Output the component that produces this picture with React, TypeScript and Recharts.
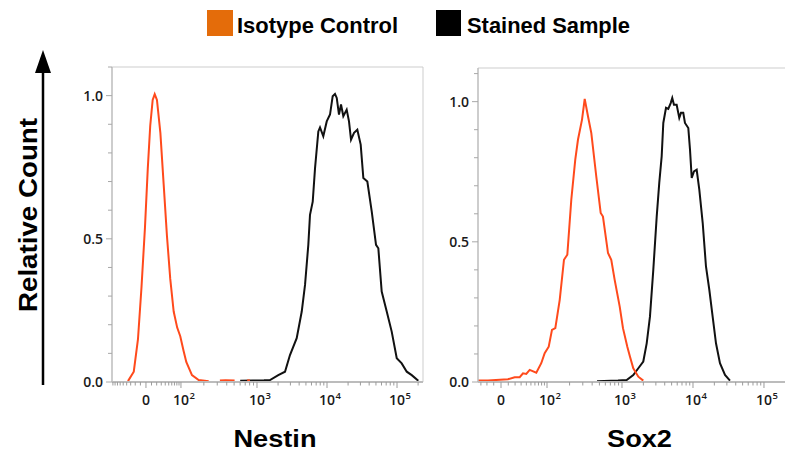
import React from 'react';
import { LineChart, Line, XAxis, YAxis, ReferenceLine } from 'recharts';

// ---------- data (x in display channel units: 10^3 -> 3, 10^4 -> 4, 10^5 -> 5) ----------
const nestinIsoX = [1.157, 1.24, 1.3, 1.35, 1.4, 1.44, 1.475, 1.51, 1.539, 1.571, 1.62, 1.667, 1.714, 1.761, 1.81, 1.86, 1.904, 1.95, 1.99, 2.071, 2.167, 2.31, 2.4, 2.47, 2.55, 2.68, 2.76, 2.86, 2.9];
const nestinIsoY = [0.003, 0.036, 0.15, 0.33, 0.54, 0.745, 0.895, 0.985, 1.005, 0.985, 0.87, 0.69, 0.51, 0.36, 0.246, 0.19, 0.16, 0.11, 0.07, 0.024, 0.007, 0.003, null, 0.005, 0.006, 0.005, null, 0.006, 0.005];

const nestinStainX = [2.76, 2.94, 3.1, 3.186, 3.304, 3.4, 3.471, 3.567, 3.639, 3.686, 3.733, 3.757, 3.796, 3.829, 3.876, 3.9, 3.947, 3.996, 4.043, 4.081, 4.114, 4.139, 4.171, 4.2, 4.233, 4.281, 4.314, 4.343, 4.386, 4.433, 4.481, 4.519, 4.576, 4.639, 4.7, 4.733, 4.781, 4.853, 4.924, 4.996, 5.067, 5.139, 5.21, 5.304];
const nestinStainY = [0.004, 0.005, 0.006, 0.007, 0.024, 0.036, 0.094, 0.153, 0.246, 0.339, 0.479, 0.584, 0.63, 0.747, 0.875, 0.889, 0.858, 0.91, 0.934, 0.998, 1.006, 0.992, 0.934, 0.969, 0.928, 0.951, 0.91, 0.846, 0.87, 0.881, 0.829, 0.712, 0.7, 0.595, 0.479, 0.467, 0.316, 0.246, 0.176, 0.083, 0.065, 0.036, 0.024, 0.004];

const sox2IsoX = [0.972, 1.113, 1.394, 1.489, 1.559, 1.606, 1.652, 1.7, 1.793, 1.863, 1.911, 1.968, 2.014, 2.061, 2.123, 2.183, 2.23, 2.286, 2.342, 2.38, 2.437, 2.475, 2.521, 2.568, 2.638, 2.7, 2.732, 2.803, 2.849, 2.897, 2.968, 3.014, 3.075, 3.113, 3.159, 3.23, 3.3];
const sox2IsoY = [0.005, 0.005, 0.01, 0.017, 0.017, 0.031, 0.029, 0.043, 0.033, 0.067, 0.103, 0.126, 0.186, 0.192, 0.293, 0.436, 0.454, 0.65, 0.793, 0.864, 0.936, 1.01, 0.948, 0.888, 0.733, 0.603, 0.59, 0.46, 0.436, 0.364, 0.269, 0.192, 0.126, 0.09, 0.049, 0.019, 0.005];

const sox2StainX = [2.648, 2.944, 3.066, 3.159, 3.23, 3.3, 3.348, 3.394, 3.441, 3.489, 3.525, 3.559, 3.582, 3.62, 3.652, 3.686, 3.708, 3.732, 3.77, 3.807, 3.831, 3.863, 3.887, 3.934, 3.958, 3.982, 4.014, 4.052, 4.089, 4.137, 4.183, 4.23, 4.277, 4.324, 4.38, 4.451, 4.521];
const sox2StainY = [0.003, 0.005, 0.007, 0.025, 0.049, 0.073, 0.138, 0.233, 0.4, 0.59, 0.71, 0.805, 0.924, 0.978, 0.974, 0.995, 1.013, 0.989, 0.989, 0.942, 0.96, 0.96, 0.924, 0.906, 0.829, 0.728, 0.751, 0.757, 0.686, 0.567, 0.412, 0.329, 0.233, 0.138, 0.067, 0.025, 0.005];

// axis tick definitions
const tickBase = ['0', '10', '10', '10', '10'];
const tickExp = ['', '2', '3', '4', '5'];
const nestinTickPos = [1.414, 1.914, 3, 4, 5];
const sox2TickPos = [1.296, 1.944, 3, 4, 5];
const nestinXDomain = [0.929, 5.371];
const sox2XDomain = [0.972, 5.296];

const yTicks = [0, 0.1, 0.2, 0.3, 0.4, 0.5, 0.6, 0.7, 0.8, 0.9, 1.0, 1.1];
const yMajor = [0, 0.5, 1.0];
const yLabels = ['0.0', '0.5', '1.0'];

const legendNames = ['Isotype Control', 'Stained Sample'];
const panelTitles = ['Nestin', 'Sox2'];

const ISO_COLOR = '#ff4a1c';
const ISO_LEGEND = '#e46c0a';
const STAIN_COLOR = '#111111';
const AXIS_GRAY = '#bcbcbc';
const TICK_FONT = '"Open Sans", "DejaVu Sans", sans-serif';
const TITLE_FONT = '"Liberation Sans", Arial, sans-serif';

const zip = (xs: number[], ys: (number | null)[]) => xs.map((x, i) => ({ x, y: ys[i] }));

function minorTicks(p: number[], lo: number, hi: number): number[] {
  const [z, d2, d3, d4, d5] = p;
  const out: number[] = [];
  const a = 0.283;
  const norm = Math.asinh(10 * a);
  for (let k = 1; k <= 9; k++) {
    const f = Math.asinh(a * k) / norm;
    out.push(z + (d2 - z) * f);
    const neg = z - (d2 - z) * f;
    if (neg > lo) out.push(neg);
  }
  const decs = [d2, d3, d4, d5];
  for (let i = 0; i < decs.length; i++) {
    const s = decs[i];
    const w = i < decs.length - 1 ? decs[i + 1] - s : s - decs[i - 1];
    for (let k = 2; k <= 9; k++) {
      const v = s + w * Math.log10(k);
      if (v < hi) out.push(v);
    }
  }
  return out;
}

const XTick = (props: any) => {
  const { x, y, payload, majors } = props;
  const idx = majors.findIndex((m: number) => Math.abs(m - payload.value) < 1e-9);
  const major = idx >= 0;
  return (
    <g>
      <line x1={x} x2={x} y1={y} y2={y + (major ? 6 : 3.5)} stroke="#9c9c9c" strokeWidth={1} />
      {major && (
        <text x={x} y={y + 23} textAnchor="middle" fontFamily={TICK_FONT} fontWeight={600} fontSize={14} fill="#1a1a1a">
          {tickBase[idx]}
        </text>
      )}
      {major && tickExp[idx] && (
        <text x={x + 8.5} y={y + 17} textAnchor="start" fontFamily={TICK_FONT} fontWeight={600} fontSize={9.5} fill="#1a1a1a">
          {tickExp[idx]}
        </text>
      )}
    </g>
  );
};

const YTick = (props: any) => {
  const { x, y, payload } = props;
  const idx = yMajor.findIndex((m) => Math.abs(m - payload.value) < 1e-9);
  const major = idx >= 0;
  return (
    <g>
      <line x1={x - (major ? 6 : 4)} x2={x} y1={y} y2={y} stroke="#a8a8a8" strokeWidth={1} />
      {major && (
        <text x={x - 9} y={y} dy={5} textAnchor="end" fontFamily={TICK_FONT} fontWeight={600} fontSize={14} fill="#1a1a1a">
          {yLabels[idx]}
        </text>
      )}
    </g>
  );
};

type PanelProps = {
  left: number;
  top: number;
  width: number;
  height: number;
  margin: { top: number; right: number; left: number; bottom: number };
  yAxisWidth: number;
  xDomain: number[];
  yMax: number;
  tickPos: number[];
  iso: { x: number; y: number | null }[];
  stain: { x: number; y: number | null }[];
  rightBorder: boolean;
};

const Panel = (p: PanelProps) => {
  const ticks = [...p.tickPos, ...minorTicks(p.tickPos, p.xDomain[0], p.xDomain[1])];
  return (
    <div style={{ position: 'absolute', left: p.left, top: p.top }}>
      <LineChart width={p.width} height={p.height} margin={p.margin}>
        <XAxis
          dataKey="x"
          type="number"
          domain={p.xDomain}
          allowDataOverflow
          ticks={ticks}
          interval={0}
          height={48}
          tickSize={0}
          tickMargin={0}
          axisLine={{ stroke: AXIS_GRAY, strokeWidth: 2 }}
          tickLine={false}
          tick={(tp: any) => <XTick {...tp} majors={p.tickPos} />}
        />
        <YAxis
          type="number"
          domain={[0, p.yMax]}
          allowDataOverflow
          ticks={yTicks}
          interval={0}
          width={p.yAxisWidth}
          tickSize={0}
          tickMargin={0}
          axisLine={{ stroke: AXIS_GRAY, strokeWidth: 1.5 }}
          tickLine={false}
          tick={(tp: any) => <YTick {...tp} />}
        />
        <ReferenceLine y={p.yMax} stroke="#cdcdcd" strokeWidth={1} />
        {p.rightBorder && <ReferenceLine x={p.xDomain[1]} stroke="#cdcdcd" strokeWidth={1} />}
        <Line
          data={p.stain}
          dataKey="y"
          type="linear"
          dot={false}
          stroke={STAIN_COLOR}
          strokeWidth={2}
          isAnimationActive={false}
          connectNulls={false}
          name={legendNames[1]}
        />
        <Line
          data={p.iso}
          dataKey="y"
          type="linear"
          dot={false}
          stroke={ISO_COLOR}
          strokeWidth={2}
          isAnimationActive={false}
          connectNulls={false}
          name={legendNames[0]}
        />
      </LineChart>
    </div>
  );
};

export default function App() {
  return (
    <div style={{ position: 'absolute', left: 0, top: 0, width: 787, height: 453, background: '#fff', overflow: 'hidden' }}>
      <Panel
        left={60}
        top={50}
        width={370}
        height={380}
        margin={{ top: 17, right: 7, left: 0, bottom: 0 }}
        yAxisWidth={52}
        xDomain={nestinXDomain}
        yMax={1.1}
        tickPos={nestinTickPos}
        iso={zip(nestinIsoX, nestinIsoY)}
        stain={zip(nestinStainX, nestinStainY)}
        rightBorder
      />
      <Panel
        left={430}
        top={50}
        width={357}
        height={380}
        margin={{ top: 18, right: 2, left: 0, bottom: 0 }}
        yAxisWidth={48}
        xDomain={sox2XDomain}
        yMax={1.12}
        tickPos={sox2TickPos}
        iso={zip(sox2IsoX, sox2IsoY)}
        stain={zip(sox2StainX, sox2StainY)}
        rightBorder={false}
      />
      <svg width={787} height={453} style={{ position: 'absolute', left: 0, top: 0, pointerEvents: 'none' }}>
        {/* legend */}
        <rect x={207} y={10} width={26} height={26} fill={ISO_LEGEND} />
        <text x={237} y={33} fontFamily={TITLE_FONT} fontWeight="bold" fontSize={22} fill="#000" textLength={161} lengthAdjust="spacingAndGlyphs">
          {legendNames[0]}
        </text>
        <rect x={436} y={10} width={25} height={26} fill="#000" />
        <text x={467} y={33} fontFamily={TITLE_FONT} fontWeight="bold" fontSize={22} fill="#000" textLength={163} lengthAdjust="spacingAndGlyphs">
          {legendNames[1]}
        </text>
        {/* y arrow and title */}
        <line x1={43} x2={43} y1={385} y2={70} stroke="#000" strokeWidth={2.5} />
        <polygon points="43,50 35,73 51,73" fill="#000" />
        <text
          transform="translate(37,215) rotate(-90)"
          textAnchor="middle"
          fontFamily={TITLE_FONT}
          fontWeight="bold"
          fontSize={26}
          fill="#000"
          textLength={194}
          lengthAdjust="spacingAndGlyphs"
        >
          Relative Count
        </text>
        {/* panel titles */}
        <text x={275} y={447} textAnchor="middle" fontFamily={TITLE_FONT} fontWeight="bold" fontSize={24} fill="#000" textLength={83} lengthAdjust="spacingAndGlyphs">
          {panelTitles[0]}
        </text>
        <text x={639.5} y={447} textAnchor="middle" fontFamily={TITLE_FONT} fontWeight="bold" fontSize={24} fill="#000" textLength={65} lengthAdjust="spacingAndGlyphs">
          {panelTitles[1]}
        </text>
      </svg>
    </div>
  );
}
